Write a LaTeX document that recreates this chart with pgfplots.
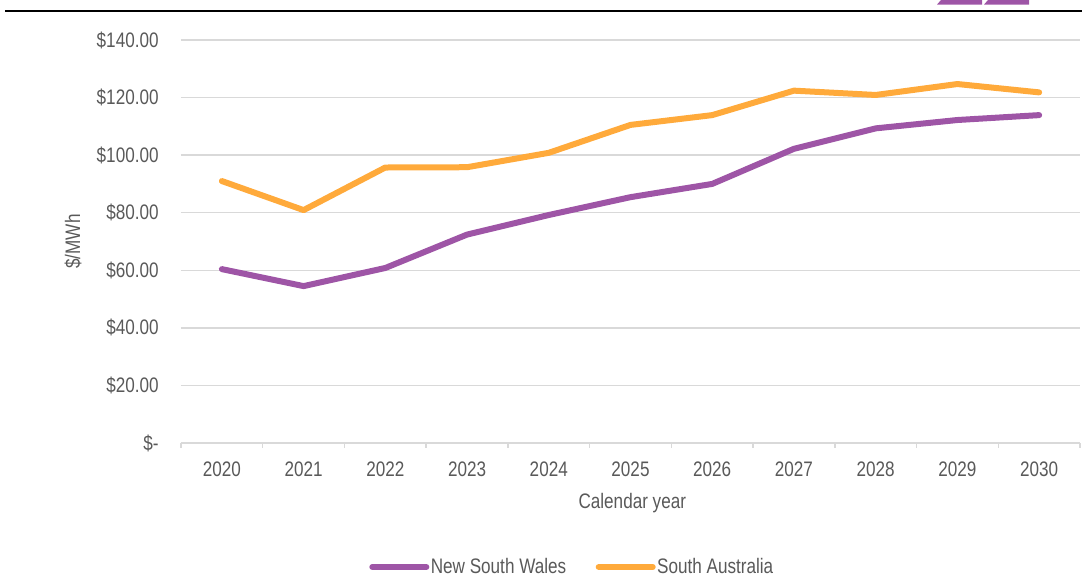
\documentclass[border=0pt]{standalone}
\usepackage{fontspec}
\setmainfont[FakeStretch=0.815]{Liberation Sans}
\usepackage{pgfplots}
\pgfplotsset{compat=1.18}
\definecolor{nswpurple}{HTML}{9E55A6}
\definecolor{saorange}{HTML}{FFAA3B}
\definecolor{gridgray}{HTML}{D9D9D9}
\definecolor{txtgray}{HTML}{595959}
\begin{document}
\begin{tikzpicture}
\path[use as bounding box] (0pt,0pt) rectangle (541pt,288pt);
\draw[line width=1.3pt, black] (2.5pt,282.5pt) -- (541pt,282.5pt);
\fill[nswpurple] (468.5pt,285.7pt) -- (491pt,285.7pt) -- (491pt,288pt) -- (470.5pt,288pt) -- cycle;
\fill[nswpurple] (492pt,285.7pt) -- (514.5pt,285.7pt) -- (514.5pt,288pt) -- (494pt,288pt) -- cycle;
\begin{axis}[
  at={(90.5pt,66.5pt)}, anchor=south west,
  scale only axis, width=449.5pt, height=201.5pt,
  xmin=-0.5, xmax=10.5, ymin=0, ymax=140,
  axis line style={draw=none},
  xtick={0,...,10},
  xticklabels={2020,2021,2022,2023,2024,2025,2026,2027,2028,2029,2030},
  major x tick style={draw=none},
  minor xtick={-0.5,0.5,...,10.5},
  minor x tick style={draw=gridgray, line width=0.75pt},
  minor tick length=2.5pt,
  xtick pos=bottom, xtick align=outside,
  ytick={0,20,...,140},
  yticklabels={\$-,\$20.00,\$40.00,\$60.00,\$80.00,\$100.00,\$120.00,\$140.00},
  major y tick style={draw=none},
  ymajorgrids, grid style={draw=gridgray, line width=0.75pt},
  tick label style={font=\fontsize{10.5pt}{12pt}\selectfont, text=txtgray},
  yticklabel style={inner sep=0pt, anchor=east, xshift=-11pt},
  xticklabel style={inner sep=0pt, anchor=north, yshift=-5.1pt},
  xlabel={Calendar year}, ylabel={\$/MWh},
  label style={font=\fontsize{10.5pt}{12pt}\selectfont, text=txtgray},
  xlabel style={at={(axis description cs:0.502,-0.1489)}, anchor=center},
  ylabel style={at={(axis description cs:-0.1201,0.5)}, anchor=center},
  legend style={at={(axis description cs:0.435,-0.3077)}, anchor=center, draw=none, fill=none,
    font=\fontsize{10.5pt}{12pt}\selectfont, text=txtgray, nodes={inner sep=0.75pt},
    /tikz/every even column/.append style={column sep=14pt}},
  legend columns=2,
  legend image code/.code={\draw[#1, line cap=round] (0pt,0pt) -- (27pt,0pt);},
  clip=false,
]
\addplot[nswpurple, line width=3pt, line cap=round, line join=round] coordinates {
(0,60.4) (1,54.5) (2,60.8) (3,72.4) (4,79.2) (5,85.4) (6,90.0) (7,102.2) (8,109.3) (9,112.2) (10,113.9)};
\addlegendentry{New South Wales}
\addplot[saorange, line width=3pt, line cap=round, line join=round] coordinates {
(0,91.0) (1,80.9) (2,95.7) (3,95.8) (4,100.8) (5,110.5) (6,113.9) (7,122.4) (8,120.9) (9,124.7) (10,121.8)};
\addlegendentry{South Australia}
\draw[gridgray, line width=0.75pt] (axis cs:-0.5,0) -- (axis cs:10.5,0);
\end{axis}
\end{tikzpicture}
\end{document}
